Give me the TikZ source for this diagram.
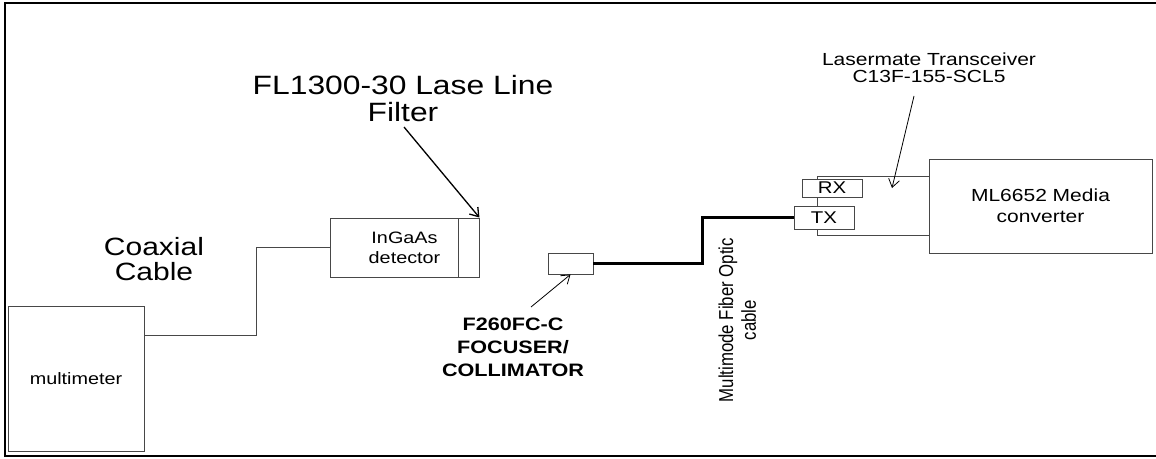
\documentclass[tikz,border=0pt]{standalone}
\usepackage{fontspec}
\setmainfont[FakeStretch=1.2]{Liberation Sans}
\newfontfamily\plainsans{Liberation Sans}
\usetikzlibrary{arrows.meta,calc}
\tikzset{
  box/.style={draw=black!72, line width=0.9pt, fill=white, inner sep=0pt, align=center},
  lbl/.style={inner sep=0pt, align=center},
  ptr/.style={draw=black, line width=0.8pt, -{Straight Barb[length=8pt,width=11pt]}},
  coax/.style={draw=black!72, line width=0.9pt},
  fiber/.style={draw=black, line width=3pt},
  frame/.style={draw=black, line width=2.2pt},
}
\begin{document}
\begin{tikzpicture}[x=1pt,y=-1pt]
\useasboundingbox (0,0) rectangle (1156,458);
\draw[frame] (1162,3) -- (5,3) -- (5,456) -- (1162,456);

% boxes
\node[box, minimum width=136pt, minimum height=145pt, font=\fontsize{16.5}{20}\selectfont] (mm) at (76,378.5) {multimeter};
\node[box, minimum width=149pt, minimum height=59pt, font=\fontsize{16.5}{20}\selectfont] (det) at (404.5,247.5) {InGaAs\\detector};
\draw[draw=black!72, line width=0.9pt] (458,218) -- (458,277);
\node[box, minimum width=45pt, minimum height=21pt] (foc) at (570.5,263.5) {};
\draw[draw=black!72, line width=0.9pt] (817,176) rectangle (929,235);
\node[box, minimum width=60pt, minimum height=18pt, font=\fontsize{17}{18}\selectfont] (rx) at (832,188) {RX};
\node[box, minimum width=60pt, minimum height=23pt, font=\fontsize{17}{18}\selectfont] (tx) at (824,217.5) {TX};
\node[box, minimum width=223pt, minimum height=94pt, font=\fontsize{17.5}{21}\selectfont] (ml) at (1040.5,206) {ML6652 Media\\converter};

% labels
\node[lbl, font=\fontsize{25}{24.5}\selectfont] (coaxlbl) at (154,259) {Coaxial\\Cable};
\node[lbl, font=\fontsize{26.5}{27}\selectfont] (fllbl) at (403,99) {FL1300-30 Lase Line\\Filter};
\node[lbl, font=\bfseries\fontsize{18}{23}\selectfont] (foclbl) at (513,347) {F260FC-C\\FOCUSER/\\COLLIMATOR};
\node[lbl, font=\fontsize{17.5}{17}\selectfont] (lmlbl) at (929,68) {Lasermate Transceiver\\C13F-155-SCL5};
\node[lbl, rotate=90, font=\plainsans\fontsize{16.8}{19}\selectfont] (mmflbl) at (740,320)
  {\scalebox{1}[1.2]{\begin{tabular}{@{}c@{}}Multimode Fiber Optic\\cable\end{tabular}}};

% connectors
\draw[coax] ($(mm.north east)+(0,30)$) -- ++(112,0) |- (det.west);
\draw[fiber] (foc.east) -- ++(109,0) |- (tx.west);

\coordinate (flstart) at (404,127);
\coordinate (focstart) at (531,307);
\coordinate (lmstart) at (914,96);
\coordinate (lmtip) at (892,188);
\draw[ptr, line width=1.3pt] (flstart) -- (det.north east);
\draw[ptr] (focstart) -- (foc.south);
\draw[ptr] (lmstart) -- (lmtip);
\end{tikzpicture}
\end{document}
